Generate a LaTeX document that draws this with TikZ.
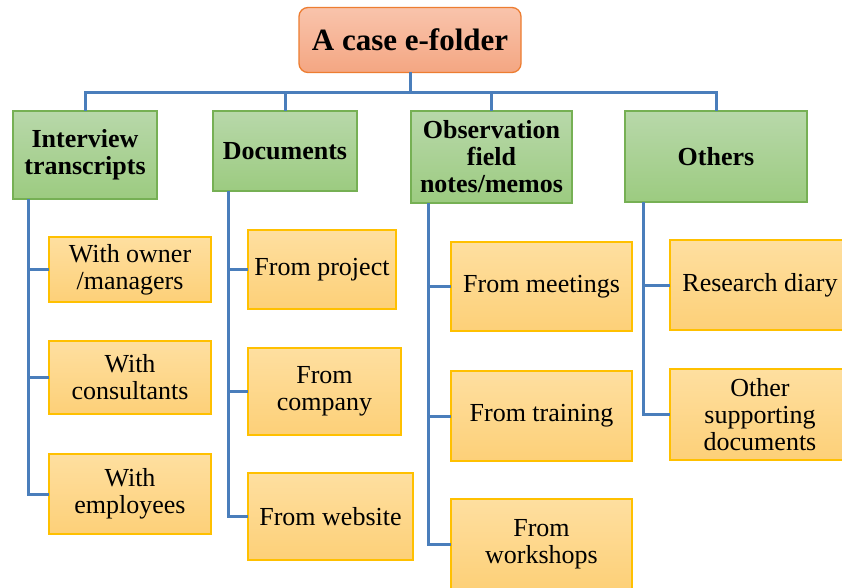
\documentclass[tikz,border=0pt]{standalone}
\usepackage{fontspec}
\setmainfont{Liberation Serif}
\definecolor{linkblue}{RGB}{74,126,187}
\definecolor{rootTop}{RGB}{249,196,172}
\definecolor{rootBot}{RGB}{244,166,130}
\definecolor{rootEdge}{RGB}{237,125,49}
\definecolor{grpTop}{RGB}{184,216,170}
\definecolor{grpBot}{RGB}{156,203,128}
\definecolor{grpEdge}{RGB}{118,176,84}
\definecolor{itemTop}{RGB}{254,223,160}
\definecolor{itemBot}{RGB}{253,208,120}
\definecolor{itemEdge}{RGB}{255,192,0}
\tikzset{
  rootbox/.style={draw=rootEdge, line width=1.3pt, rounded corners=9pt,
    top color=rootTop, bottom color=rootBot, inner sep=0pt, outer sep=0pt,
    font=\fontsize{31}{33}\selectfont\bfseries, align=center},
  grpbox/.style={draw=grpEdge, line width=1.2pt,
    top color=grpTop, bottom color=grpBot, inner sep=0pt, outer sep=0pt,
    font=\fontsize{26}{27}\selectfont\bfseries, align=center},
  itembox/.style={draw=itemEdge, line width=1.2pt,
    top color=itemTop, bottom color=itemBot, inner sep=0pt, outer sep=0pt,
    font=\fontsize{26}{27}\selectfont, align=center},
  conn/.style={draw=linkblue, line width=3pt}
}
\begin{document}
\begin{tikzpicture}[x=1pt, y=-1pt]
\clip (0,0) rectangle (842,588);
\fill[white] (0,0) rectangle (842,588);

% root
\node[rootbox, minimum width=222, minimum height=65] (root) at (410,40) {A case e-folder};

% groups
\node[grpbox, minimum width=144, minimum height=88] (g1) at (85,155) {Interview\\transcripts};
\node[grpbox, minimum width=144, minimum height=80] (g2) at (285,151) {Documents};
\node[grpbox, minimum width=161, minimum height=92] (g3) at (491.5,157) {Observation\\field\\notes/memos};
\node[grpbox, minimum width=182, minimum height=91] (g4) at (716,156.5) {Others};

% items, column 1
\node[itembox, minimum width=162, minimum height=65] (a1) at (130,269.5) {With owner\\/managers};
\node[itembox, minimum width=162, minimum height=73] (a2) at (130,377.5) {With\\consultants};
\node[itembox, minimum width=162, minimum height=80] (a3) at (130,494) {With\\employees};

% items, column 2
\node[itembox, minimum width=148, minimum height=79] (b1) at (322,269.5) {From project};
\node[itembox, minimum width=153, minimum height=87] (b2) at (324.5,391.5) {From\\company};
\node[itembox, minimum width=165, minimum height=87] (b3) at (330.5,516.5) {From website};

% items, column 3
\node[itembox, minimum width=181, minimum height=89] (c1) at (541.5,286.5) {From meetings};
\node[itembox, minimum width=181, minimum height=90] (c2) at (541.5,416) {From training};
\node[itembox, minimum width=181, minimum height=90] (c3) at (541.5,544) {From\\workshops};

% items, column 4
\node[itembox, minimum width=180, minimum height=90] (d1) at (760,285) {Research diary};
\node[itembox, minimum width=180, minimum height=91] (d2) at (760,414.5) {Other\\supporting\\documents};

% bus below the root
\coordinate (bus) at (0,93);
\draw[conn] (root.south) -- (root.south |- bus);
\draw[conn] (g1.north) -- (g1.north |- bus) -- (g4.north |- bus) -- (g4.north);
\draw[conn] (g2.north) -- (g2.north |- bus);
\draw[conn] (g3.north) -- (g3.north |- bus);

% spines under each group
\coordinate (s1) at (28,0);
\coordinate (s2) at (228,0);
\coordinate (s3) at (428,0);
\coordinate (s4) at (643,0);

\draw[conn] (g1.south -| s1) |- (a3.west);
\draw[conn] (a1.west) -- (a1.west -| s1);
\draw[conn] (a2.west) -- (a2.west -| s1);

\draw[conn] (g2.south -| s2) |- (b3.west);
\draw[conn] (b1.west) -- (b1.west -| s2);
\draw[conn] (b2.west) -- (b2.west -| s2);

\draw[conn] (g3.south -| s3) |- (c3.west);
\draw[conn] (c1.west) -- (c1.west -| s3);
\draw[conn] (c2.west) -- (c2.west -| s3);

\draw[conn] (g4.south -| s4) |- (d2.west);
\draw[conn] (d1.west) -- (d1.west -| s4);
\end{tikzpicture}
\end{document}
